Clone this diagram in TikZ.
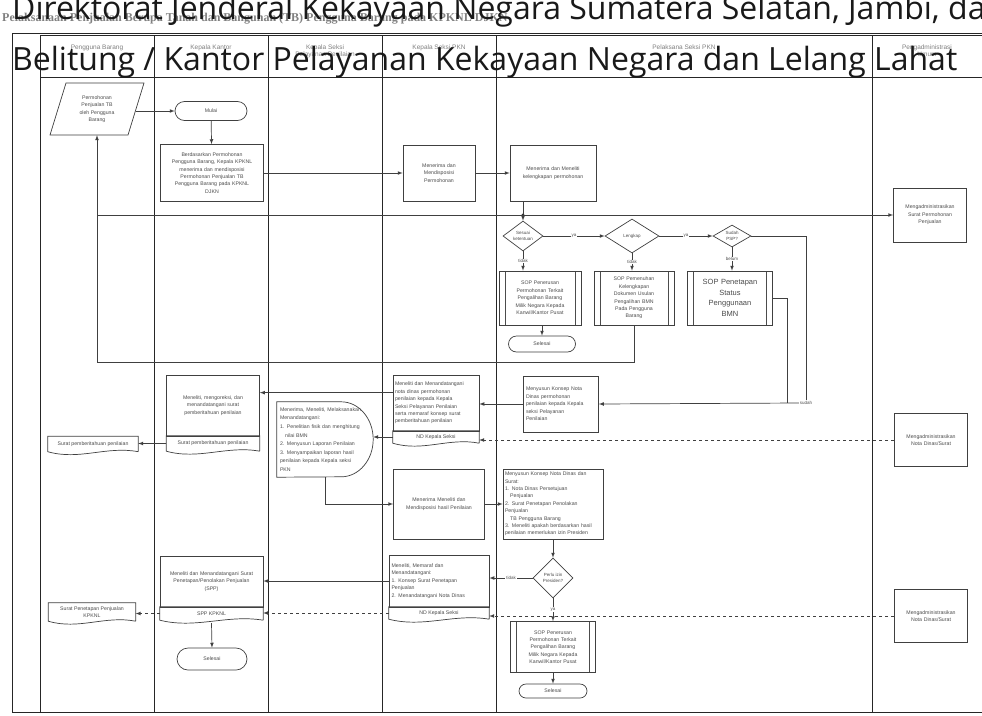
\documentclass[tikz,border=0pt]{standalone}
\usepackage{fontspec}
\setmainfont{Liberation Sans}
\newfontfamily\overlayfont{Open Sans}
\newfontfamily\seriffont{Liberation Serif}
\usetikzlibrary{calc, positioning, shapes, arrows}

\tikzstyle{ln}=[draw=black!75, line width=0.7pt]
\tikzstyle{arr}=[ln, -latex]
\tikzstyle{lane}=[draw=black!85, line width=0.9pt]
\tikzstyle{box}=[ln, fill=white, align=center, text=black!70, font=\fontsize{5.2}{7.4}\selectfont, inner sep=1.5pt]
\tikzstyle{txt}=[align=center, text=black!70, font=\fontsize{5.2}{7.4}\selectfont, inner sep=1pt]
\tikzstyle{term}=[box, rounded rectangle]
\tikzstyle{dec}=[box, diamond, inner sep=0pt, font=\fontsize{4.5}{5.5}\selectfont]
\tikzstyle{sop}=[box, path picture={\draw[black!70] ([xshift=6pt]path picture bounding box.north west) -- ([xshift=6pt]path picture bounding box.south west) ([xshift=-6pt]path picture bounding box.north east) -- ([xshift=-6pt]path picture bounding box.south east);}]
\tikzstyle{lbl}=[fill=white, inner sep=0.8pt, text=black!70, font=\fontsize{4.5}{5}\selectfont]
\tikzstyle{hdr}=[align=center, text=black!50, font=\fontsize{6.5}{7.5}\selectfont]

% document outline with wavy bottom
\newcommand{\docwave}[1]{\draw[ln] (#1.south east) -- (#1.north east) -- (#1.north west) -- (#1.south west) .. controls ($(#1.south west)!0.35!(#1.south east)+(0,9)$) and ($(#1.south west)!0.65!(#1.south east)+(0,-6)$) .. (#1.south east);}

\begin{document}
\begin{tikzpicture}[x=1pt, y=-1pt]
\useasboundingbox (0,0) rectangle (982,715);
\fill[white] (0,0) rectangle (982,715);

% title and lanes
\node[anchor=base west, text=black!50, font=\seriffont\bfseries\fontsize{12}{13}\selectfont, inner sep=0pt] (judul) at (2,21) {Pelaksanaan Penjualan Berupa Tanah dan Bangunan (TB) Pengguna Barang pada KPKNL DJKN};
\draw[lane] (12,712) -- (12,33) -- (982,33);
\draw[lane] (40,35) -- (982,35);
\draw[lane] (40,77) -- (982,77);
\draw[lane] (12,712) -- (982,712);
\foreach \x in {40,154,268,382,496,872}
\draw[lane] (\x,35) -- (\x,712);

\foreach \x / \t in {97/Pengguna Barang, 211/Kepala Kantor, 325/{Kepala Seksi\\Pelayanan Penilaian}, 439/Kepala Seksi PKN, 684/Pelaksana Seksi PKN, 927/{Pengadministrasi\\Umum}}
\node[hdr, anchor=north] (h-\x) at (\x,41) {\t};

% lane 1
\node[txt, minimum width=64pt, minimum height=52pt] (perm) at (97,109) {Permohonan\\Penjualan TB\\oleh Pengguna\\Barang};
\draw[ln] (50,135) -- (66,83) -- (144,83) -- (128,135) -- cycle;
\coordinate (perm-r) at (136,111);
\node[txt, minimum width=90pt, minimum height=15pt] (surat1) at (93,444) {Surat pemberitahuan penilaian};
\docwave{surat1}
\node[txt, minimum width=87pt, minimum height=18pt] (surat2) at (92,612) {Surat Penetapan Penjualan\\KPKNL};
\docwave{surat2}

% lane 2
\node[term, minimum width=75pt, minimum height=19pt] (mulai) at (211,111) {Mulai};
\node[box, minimum width=103pt, minimum height=57pt, text width=99pt] (bdsk) at (212,173) {Berdasarkan Permohonan\\Pengguna Barang, Kepala KPKNL\\menerima dan mendisposisi\\Permohonan Penjualan TB\\Pengguna Barang pada KPKNL\\DJKN};
\node[box, minimum width=93pt, minimum height=61pt, text width=88pt] (kor) at (213,405.5) {Meneliti, mengoreksi, dan\\menandatangani surat\\pemberitahuan penilaian};
\node[txt, minimum width=93pt, minimum height=15pt] (korb) at (213,443.5) {Surat pemberitahuan penilaian};
\docwave{korb}
\node[box, minimum width=103pt, minimum height=51pt, text width=99pt] (spp) at (211.5,581.5) {Meneliti dan Menandatangani Surat\\Penetapan/Penolakan Penjualan\\(SPP)};
\node[txt, minimum width=103pt, minimum height=13pt] (sppb) at (211.5,613.5) {SPP KPKNL};
\docwave{sppb}
\node[term, minimum width=73pt, minimum height=22pt] (selesai1) at (212,659) {Selesai};

% lane 3
\node[txt, align=left, text width=90pt, minimum width=96pt, minimum height=75pt, font=\fontsize{5.2}{8.6}\selectfont] (nilai) at (325,439.5) {Menerima, Meneliti, Melaksanakan\\Menandatangani:\\1. Penelitian fisik dan menghitung\\\quad nilai BMN\\2. Menyusun Laporan Penilaian\\3. Menyampaikan laporan hasil\\penilaian kepada Kepala seksi\\PKN};
\draw[ln] (nilai.south west) -- (nilai.north west) -- ($(nilai.north east)+(-32,0)$) arc[start angle=-90, end angle=90, x radius=32, y radius=37.5] -- cycle;

% lane 4
\node[box, minimum width=72pt, minimum height=56pt, text width=66pt] (disp) at (439,173) {Menerima dan\\Mendisposisi\\Permohonan};
\node[box, align=left, minimum width=86pt, minimum height=56pt, text width=82pt] (nd1) at (436,403) {Meneliti dan Menandatangani\\nota dinas permohonan\\penilaian kepada Kepala\\Seksi Pelayanan Penilaian\\serta memaraf konsep surat\\pemberitahuan penilaian};
\node[txt, minimum width=86pt, minimum height=12pt] (nd1b) at (436,437) {ND Kepala Seksi};
\docwave{nd1b}
\node[box, minimum width=91pt, minimum height=70pt, text width=86pt] (hasil) at (439,504) {Menerima Meneliti dan\\Mendisposisi hasil Penilaian};
\node[box, align=left, minimum width=100pt, minimum height=52pt, text width=95pt] (nd2) at (439,581) {Meneliti, Memaraf dan\\Menandatangani:\\1. Konsep Surat Penetapan\\Penjualan\\2. Menandatangani Nota Dinas};
\node[txt, minimum width=100pt, minimum height=12pt] (nd2b) at (439,613) {ND Kepala Seksi};
\docwave{nd2b}

% lane 5
\node[box, minimum width=86pt, minimum height=56pt, text width=82pt] (kel) at (553,173) {Menerima dan Meneliti\\kelengkapan permohonan};
\node[dec, minimum width=40pt, minimum height=30pt] (d1) at (523,236) {Sesuai\\ketentuan};
\node[dec, minimum width=54pt, minimum height=34pt] (d2) at (632,236) {Lengkap};
\node[dec, minimum width=38pt, minimum height=22pt] (d3) at (732,236) {Sudah\\PSP?};
\node[sop, minimum width=82pt, minimum height=54pt, text width=66pt] (sop1) at (540,298) {SOP Penerusan\\Permohonan Terkait\\Pengalihan Barang\\Milik Negara Kepada\\Kanwil/Kantor Pusat};
\node[sop, minimum width=80pt, minimum height=54pt, text width=64pt] (sop2) at (634,298) {SOP Pemenuhan\\Kelengkapan\\Dokumen Usulan\\Pengalihan BMN\\Pada Pengguna\\Barang};
\node[sop, minimum width=85pt, minimum height=54pt, text width=68pt, font=\fontsize{7.5}{10.5}\selectfont] (sop3) at (730,298) {SOP Penetapan\\Status\\Penggunaan\\BMN};
\node[term, minimum width=70pt, minimum height=16pt] (selesai2) at (542,344) {Selesai};
\node[box, align=left, minimum width=75pt, minimum height=56pt, text width=70pt] (msk) at (561,404) {Menyusun Konsep Nota\\Dinas permohonan\\penilaian kepada Kepala\\seksi Pelayanan\\Penilaian};
\node[box, align=left, minimum width=100pt, minimum height=70pt, text width=96pt] (msk2) at (553,504) {Menyusun Konsep Nota Dinas dan\\Surat:\\1. Nota Dinas Persetujuan\\\quad Penjualan\\2. Surat Penetapan Penolakan\\Penjualan\\\quad TB Pengguna Barang\\3. Meneliti apakah berdasarkan hasil\\penilaian memerlukan izin Presiden};
\node[dec, minimum width=40pt, minimum height=40pt] (d4) at (553,578) {Perlu izin\\Presiden?};
\node[sop, minimum width=85pt, minimum height=51pt, text width=68pt] (sop4) at (553,647) {SOP Penerusan\\Permohonan Terkait\\Pengalihan Barang\\Milik Negara Kepada\\Kanwil/Kantor Pusat};
\node[term, minimum width=71pt, minimum height=14pt] (selesai3) at (553,691) {Selesai};

% lane 6
\node[box, minimum width=73pt, minimum height=54pt, text width=68pt] (adm1) at (930,215) {Mengadministrasikan\\Surat Permohonan\\Penjualan};
\node[box, minimum width=73pt, minimum height=53pt, text width=68pt] (adm2) at (931,440) {Mengadministrasikan\\Nota Dinas/Surat};
\node[box, minimum width=73pt, minimum height=53pt, text width=68pt] (adm3) at (931,616) {Mengadministrasikan\\Nota Dinas/Surat};

% connectors
\coordinate (jn) at (523,215);
\coordinate (lp) at (97,215);
\coordinate (ret) at (97,362);
\coordinate (c1) at (787,403);
\node[lbl] (sudah) at (806,403) {sudah};

\draw[arr] (perm-r) -- (mulai.west);
\draw[arr] (mulai) -- (bdsk);
\draw[arr] (bdsk.east) -- (disp.west);
\draw[arr] (disp.east) -- (kel.west);
\draw[ln] (kel.south -| jn) -- (jn);
\fill[black!80] (jn) circle (1.6);
\draw[arr] (jn) -- (d1.north);
\draw[arr] (lp) -- (adm1.west);
\draw[arr] (d1) -- node[lbl] {ya} (d2);
\draw[arr] (d2) -- node[lbl] {ya} (d3);
\draw[arr] (d1.south) -- node[lbl] {tidak} (d1.south |- sop1.north);
\draw[arr] (d2.south) -- node[lbl] {tidak} (d2.south |- sop2.north);
\draw[arr] (d3.south) -- node[lbl] {belum} (d3.south |- sop3.north);
\draw[arr] (sop1.south -| selesai2) -- (selesai2.north);
\draw[arr] (sop2.south) |- (ret) -- (perm.south);
\draw[ln] (sop3.east) -| (c1);
\draw[ln] (d3.east) -| (sudah.north);
\draw[arr] (sudah.west) -- (msk.east);
\draw[arr] (msk.west) -- (msk.west -| nd1.east);
\draw[arr] ([yshift=-18pt]nd1.north west) -- ([yshift=-18pt]nd1.north west -| kor.east);
\draw[arr] (nd1b.west) -- (nd1b.west -| nilai.east);
\draw[arr] (korb.west) -- (korb.west -| surat1.east);
\draw[arr] (nilai.south) |- (hasil.west);
\draw[arr] (hasil) -- (msk2);
\draw[arr] (msk2) -- (d4);
\draw[arr] (d4.west) -- node[lbl] {tidak} (d4.west -| nd2.east);
\draw[arr] (d4.south) -- node[lbl] {ya} (sop4.north);
\draw[arr] (sop4) -- (selesai3);
\draw[arr] (nd2.west) -- (nd2.west -| spp.east);
\draw[arr, dashed] (adm2.west) -- (adm2.west -| nd1b.east);
\draw[arr, dashed] (adm3.west) -- (adm3.west -| nd2b.east);
\draw[arr, dashed] (nd2b.west) -- (nd2b.west -| sppb.east);
\draw[arr, dashed] (sppb.west) -- (sppb.west -| surat2.east);
\draw[arr] ([yshift=-3pt]sppb.south) -- (selesai1.north);

% caption overlay
\node[anchor=base west, inner sep=0pt, text=black!90, font=\overlayfont\fontsize{32}{34}\selectfont] (cap1) at (12,19) {Direktorat Jenderal Kekayaan Negara Sumatera Selatan, Jambi, dan};
\node[anchor=base west, inner sep=0pt, text=black!90, font=\overlayfont\fontsize{32}{34}\selectfont] (cap2) at (12,70) {Belitung / Kantor Pelayanan Kekayaan Negara dan Lelang Lahat};
\end{tikzpicture}
\end{document}
